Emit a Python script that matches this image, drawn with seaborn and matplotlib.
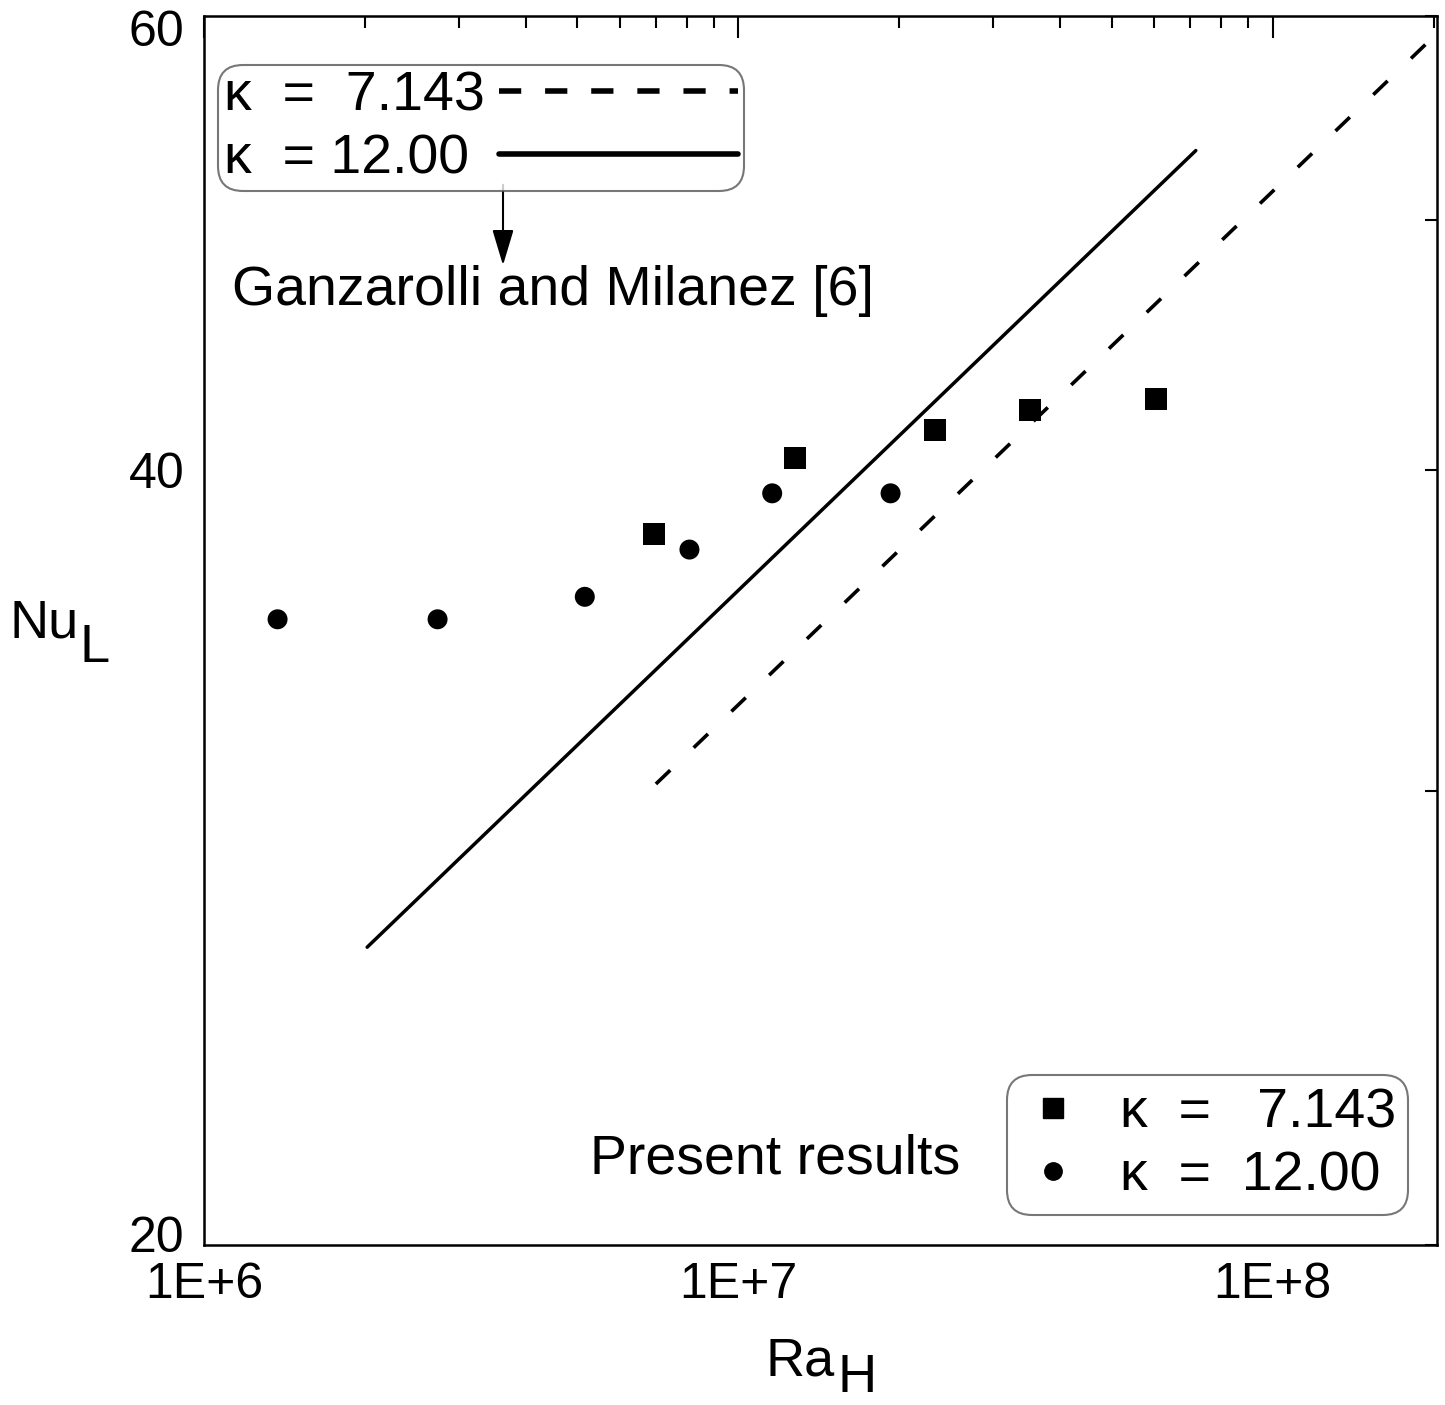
import numpy as np
import pandas as pd
import seaborn as sns
import matplotlib
matplotlib.use("Agg")
import matplotlib.pyplot as plt
from matplotlib.lines import Line2D
from matplotlib.ticker import FixedLocator, FixedFormatter, NullFormatter
from matplotlib.transforms import ScaledTranslation

# ---------------- data ----------------
ra_k7 = [6.95e6, 1.279e7, 2.332e7, 3.51e7, 6.04e7]
nu_k7 = [37.76, 40.42, 41.44, 42.19, 42.61]
ra_k12 = [1.373e6, 2.736e6, 5.16e6, 8.10e6, 1.157e7, 1.927e7]
nu_k12 = [34.99, 34.99, 35.70, 37.24, 39.16, 39.16]

corr_ra_k7 = [7.01e6, 1.95e8]
corr_nu_k7 = [30.2, 58.6]
corr_ra_k12 = [2.02e6, 7.18e7]
corr_nu_k12 = [26.1, 53.2]

x_major = [1e6, 1e7, 1e8]
x_major_labels = ["1E+6", "1E+7", "1E+8"]
y_major = [20, 40, 60]
y_major_labels = ["20", "40", "60"]
y_minor = [30, 50]

# ---------------- style ----------------
sns.set_style("white")
plt.rcParams["font.family"] = ["Liberation Sans", "DejaVu Sans"]
plt.rcParams["text.color"] = "k"
plt.rcParams["legend.labelcolor"] = "k"

W, H = 1445, 1405
fig = plt.figure(figsize=(W / 100, H / 100), dpi=100)
L, R, T, B = 204, 1437, 16, 1245
ax = fig.add_axes([L / W, 1 - B / H, (R - L) / W, (B - T) / H])
ax.set_xscale("log")
ax.set_yscale("log")

sns.lineplot(x=corr_ra_k12, y=corr_nu_k12, ax=ax, color="k", lw=2.5,
             estimator=None, legend=False)
sns.lineplot(x=corr_ra_k7, y=corr_nu_k7, ax=ax, color="k", lw=2.6,
             estimator=None, legend=False, linestyle=(0, (5.5, 9)))
sns.scatterplot(x=ra_k7, y=nu_k7, ax=ax, marker="s", s=250, color="k",
                edgecolor="none", legend=False)
sns.scatterplot(x=ra_k12, y=nu_k12, ax=ax, marker="o", s=207, color="k",
                edgecolor="none", legend=False)

ax.set_xlim(1e6, 2.03e8)
ax.set_ylim(20, 60)

ax.xaxis.set_major_locator(FixedLocator(x_major))
ax.xaxis.set_major_formatter(FixedFormatter(x_major_labels))
x_minor = [k * 10.0 ** e for e in (6, 7, 8) for k in range(2, 10) if k * 10.0 ** e <= 2.03e8]
ax.xaxis.set_minor_locator(FixedLocator(x_minor))
ax.xaxis.set_minor_formatter(NullFormatter())
ax.yaxis.set_major_locator(FixedLocator(y_major))
ax.yaxis.set_major_formatter(FixedFormatter(y_major_labels))
ax.yaxis.set_minor_locator(FixedLocator(y_minor))
ax.yaxis.set_minor_formatter(NullFormatter())

ax.tick_params(which="both", direction="in", top=True, right=True,
               width=1.5, color="k", labelsize=36, labelcolor="k")
ax.tick_params(axis="x", which="major", length=16, pad=12)
ax.tick_params(axis="x", which="minor", length=8.5)
ax.tick_params(axis="y", which="both", length=8.5, pad=14)
for sp in ax.spines.values():
    sp.set_linewidth(1.8)
    sp.set_color("k")
ax.set_xlabel("")
ax.set_ylabel("")

ylabs = ax.get_yticklabels()
ylabs[0].set_transform(ylabs[0].get_transform() + ScaledTranslation(0, 11 / 100, fig.dpi_scale_trans))
ylabs[-1].set_transform(ylabs[-1].get_transform() + ScaledTranslation(0, -12 / 100, fig.dpi_scale_trans))

FS = 40

def ftext(x, y, s, size=FS, **kw):
    fig.text(x / W, 1 - y / H, s, fontsize=size, color="k", **kw)

# axis labels with large subscripts
ftext(9, 638, "Nu", size=39, ha="left", va="baseline")
ftext(80, 662, "L", size=39, ha="left", va="baseline")
ftext(766, 1375, "Ra", size=39, ha="left", va="baseline")
ftext(837, 1392, "H", size=39, ha="left", va="baseline")

# correlation legend (top left)
h_top = [Line2D([], [], color="k", lw=4, linestyle=(0, (4, 4.3))),
         Line2D([], [], color="k", lw=4)]
leg1 = fig.legend(h_top, ["\u03ba  =  7.143", "\u03ba  = 12.00 "],
                  loc="upper left", bbox_to_anchor=(218 / W, 1 - 65 / H),
                  bbox_transform=fig.transFigure, borderaxespad=0,
                  fontsize=FS, markerfirst=False, handlelength=4.3,
                  handletextpad=0.27, labelspacing=0.2, borderpad=0.1,
                  frameon=True, fancybox=True, labelcolor="k")
leg1.get_frame().set_edgecolor("#555555")
leg1.get_frame().set_linewidth(1.5)
leg1.legendPatch.set_boxstyle("round", pad=0, rounding_size=0.45)

# present results legend (bottom right)
h_bot = [Line2D([], [], color="k", marker="s", ls="", markersize=14),
         Line2D([], [], color="k", marker="o", ls="", markersize=12.5)]
leg2 = fig.legend(h_bot, ["\u03ba  =   7.143", "\u03ba  =  12.00"],
                  loc="lower right", bbox_to_anchor=(1408 / W, 1 - 1215 / H),
                  bbox_transform=fig.transFigure, borderaxespad=0,
                  fontsize=FS, markerfirst=True, handlelength=1.2,
                  handletextpad=0.6, labelspacing=0.2, borderpad=0.22,
                  frameon=True, fancybox=True, labelcolor="k")
leg2.get_frame().set_edgecolor("#555555")
leg2.get_frame().set_linewidth(1.5)
leg2.legendPatch.set_boxstyle("round", pad=0, rounding_size=0.45)

ftext(232, 291, "Ganzarolli and Milanez [6]", ha="left", va="center")
ftext(590, 1160, "Present results", ha="left", va="center")

fig.add_artist(matplotlib.patches.FancyArrowPatch(
    (503 / W, 1 - 182 / H), (503 / W, 1 - 268 / H),
    transform=fig.transFigure, arrowstyle="-|>,head_length=1.0,head_width=0.3",
    mutation_scale=22, color="k", lw=1.5))

fig.savefig("out.png", dpi=100)
